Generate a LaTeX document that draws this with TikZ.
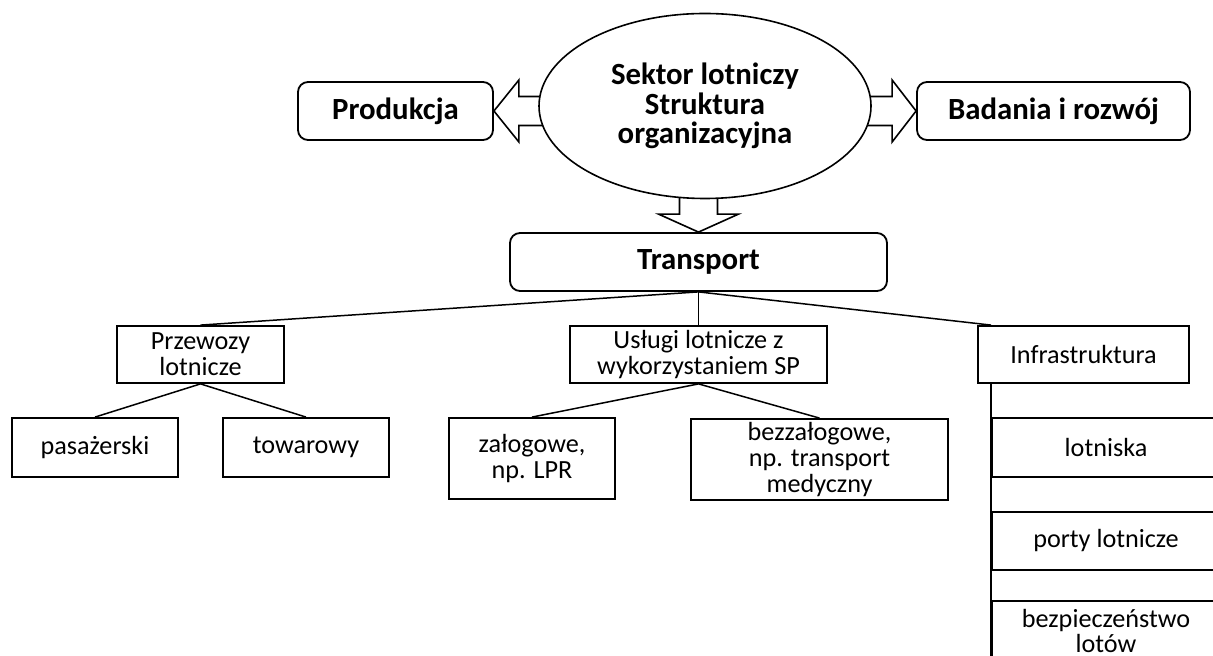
\documentclass[tikz,border=0pt]{standalone}
\usepackage{fontspec}
\setmainfont{Carlito}
\usepackage{tikz}
\usetikzlibrary{shapes,calc,backgrounds}

\begin{document}
\begin{tikzpicture}[x=0.5pt,y=-0.5pt,
        every node/.style={inner sep=0pt,align=center,font=\fontsize{13.1}{12.9}\selectfont},
        box/.style={draw,line width=0.9pt,fill=white},
        bold/.style={font=\fontsize{15.4}{14.6}\selectfont\bfseries},
        roundbox/.style={box,bold,rounded corners=5pt,minimum height=29pt},
        blockarrow/.style={draw,line width=0.8pt,fill=white,line join=miter},
        link/.style={draw,line width=0.75pt}]
        \useasboundingbox (0,0) rectangle (1213,656);
        \clip (0,0) rectangle (1213,656);
        \node [box,bold,ellipse,line width=0.8pt,minimum width=166pt,minimum height=92.5pt] (sektor) at (705,106)
            {Sektor lotniczy\\Struktura\\organizacyjna};
        \node [roundbox,minimum width=97.5pt] (produkcja) at (395.5,111) {Produkcja};
        \node [roundbox,minimum width=136.5pt] (badania) at (1053.5,111) {Badania i rozwój};
        \node [roundbox,minimum width=188.5pt] (transport) at (698.5,262) {Transport};
        \node [box,minimum width=83.5pt,minimum height=28.5pt] (przewozy) at (200.5,354.5) {Przewozy\\lotnicze};
        \node [box,minimum width=128.5pt,minimum height=28.5pt] (uslugi) at (698.5,354.5) {Usługi lotnicze z\\wykorzystaniem SP};
        \node [box,minimum width=105.5pt,minimum height=28.5pt] (infra) at (1083.5,354.5) {Infrastruktura};
        \node [box,minimum width=83pt,minimum height=29.5pt] (pasazerski) at (95,447.5) {pasażerski};
        \node [box,minimum width=83pt,minimum height=29.5pt] (towarowy) at (306,447.5) {towarowy};
        \node [box,minimum width=83pt,minimum height=40.5pt] (zalogowe) at (532,458.5) {załogowe,\\np. LPR};
        \node [box,minimum width=128.5pt,minimum height=40.5pt] (bezzalogowe) at (819.5,459.5)
            {bezzałogowe,\\np. transport\\medyczny};
        \node [box,minimum width=114pt,minimum height=29.5pt] (lotniska) at (1106,447.5) {lotniska};
        \node [box,minimum width=114pt,minimum height=29pt] (porty) at (1106,541) {porty lotnicze};
        \node [box,minimum width=114pt,minimum height=30pt,text depth=0pt] (bezpieczenstwo) at (1106,631) {bezpieczeństwo\\lotów};
        \begin{scope}[on background layer]
            \draw [blockarrow] (produkcja.east) -- ++(25,-31) -- ++(0,16.5) -- ++(50,0)
                -- ++(0,29) -- ++(-50,0) -- ++(0,16.5) -- cycle;
            \draw [blockarrow] (badania.west) -- ++(-24,-31) -- ++(0,16.5) -- ++(-50,0)
                -- ++(0,29) -- ++(50,0) -- ++(0,16.5) -- cycle;
            \draw [blockarrow] (transport.north) -- ++(-40,-18) -- ++(21,0) -- ++(0,-40)
                -- ++(38,0) -- ++(0,40) -- ++(21,0) -- cycle;
        \end{scope}
        \draw [link] (transport.south) -- (przewozy.north);
        \draw [link] (transport.south) -- (uslugi.north);
        \draw [link] (transport.south) -- (lotniska.west |- infra.north);
        \draw [link] (przewozy.south) -- (pasazerski.north);
        \draw [link] (przewozy.south) -- (towarowy.north);
        \draw [link] (uslugi.south) -- (zalogowe.north);
        \draw [link] (uslugi.south) -- (bezzalogowe.north);
        \draw [link] (lotniska.west |- infra.south) -- (lotniska.west |- 0,670);
\end{tikzpicture}
\end{document}
